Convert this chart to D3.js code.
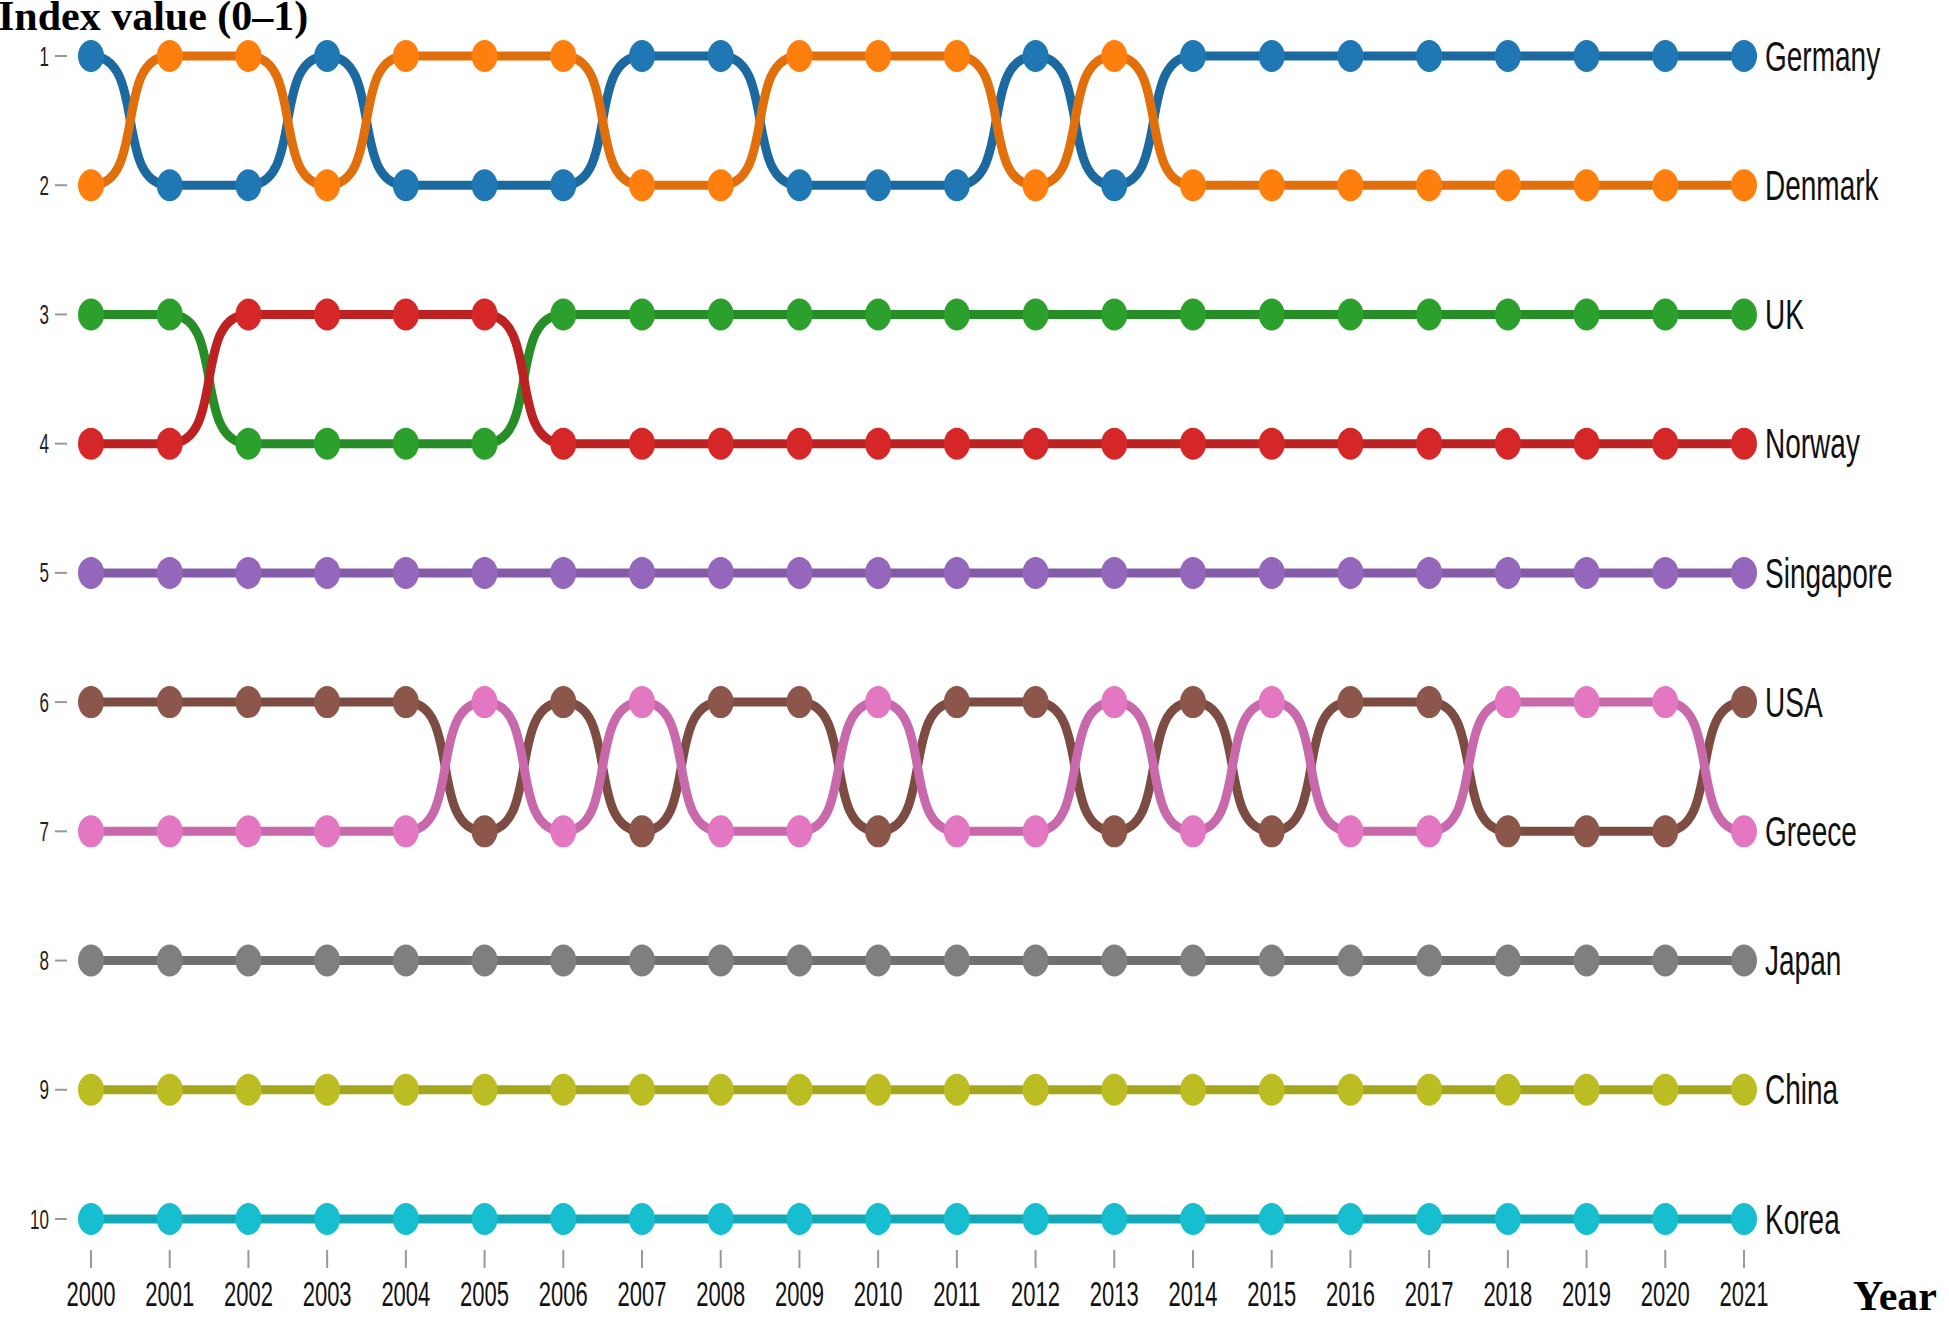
<!DOCTYPE html>
<html>
<head>
<meta charset="utf-8">
<script src="https://cdn.jsdelivr.net/npm/d3@7"></script>
<style>
  body { margin: 0; background: #fff; }
  svg { display: block; }
</style>
</head>
<body>
<svg id="chart" width="1949" height="1319"></svg>
<script>
// years on the x axis
var years = d3.range(2000, 2022);
var rankTicks = [1, 2, 3, 4, 5, 6, 7, 8, 9, 10];

// rank per year for each country
var germany   = [1,2,2,1,2,2,2,1,1,2,2,2,1,2,1,1,1,1,1,1,1,1];
var denmark   = [2,1,1,2,1,1,1,2,2,1,1,1,2,1,2,2,2,2,2,2,2,2];
var uk        = [3,3,4,4,4,4,3,3,3,3,3,3,3,3,3,3,3,3,3,3,3,3];
var norway    = [4,4,3,3,3,3,4,4,4,4,4,4,4,4,4,4,4,4,4,4,4,4];
var singapore = [5,5,5,5,5,5,5,5,5,5,5,5,5,5,5,5,5,5,5,5,5,5];
var usa       = [6,6,6,6,6,7,6,7,6,6,7,6,6,7,6,7,6,6,7,7,7,6];
var greece    = [7,7,7,7,7,6,7,6,7,7,6,7,7,6,7,6,7,7,6,6,6,7];
var japan     = [8,8,8,8,8,8,8,8,8,8,8,8,8,8,8,8,8,8,8,8,8,8];
var china     = [9,9,9,9,9,9,9,9,9,9,9,9,9,9,9,9,9,9,9,9,9,9];
var korea     = [10,10,10,10,10,10,10,10,10,10,10,10,10,10,10,10,10,10,10,10,10,10];

var countries = ["Germany", "Denmark", "UK", "Norway", "Singapore", "USA", "Greece", "Japan", "China", "Korea"];
var ranks = [germany, denmark, uk, norway, singapore, usa, greece, japan, china, korea];

var svg = d3.select("#chart");

var x = d3.scaleLinear().domain([2000, 2021]).range([91, 1744]);
var y = d3.scaleLinear().domain([1, 10]).range([56, 1219]);
var color = d3.scaleOrdinal().domain(countries).range(d3.schemeCategory10);

// bump curve with a steeper middle than d3.curveBumpX
function SharpBump(context) { this._context = context; }
SharpBump.prototype = {
  areaStart: function() {}, areaEnd: function() {},
  lineStart: function() { this._point = 0; },
  lineEnd: function() {},
  point: function(px, py) {
    if (this._point === 0) { this._context.moveTo(px, py); this._point = 1; }
    else {
      var dx = px - this._x0, a = 0.72;
      this._context.bezierCurveTo(this._x0 + a * dx, this._y0, px - a * dx, py, px, py);
    }
    this._x0 = px; this._y0 = py;
  }
};
function curveSharpBump(context) { return new SharpBump(context); }

// y axis: small ticks + stretched labels
var yAxis = svg.append("g");
rankTicks.forEach(function(r) {
  yAxis.append("line")
    .attr("x1", 55).attr("x2", 67)
    .attr("y1", y(r)).attr("y2", y(r))
    .attr("stroke", "#999").attr("stroke-width", 2);
  yAxis.append("text")
    .attr("transform", "translate(49," + y(r) + ") scale(1,1.6)")
    .attr("dy", "0.35em")
    .attr("text-anchor", "end")
    .attr("font-family", "Liberation Sans, Arial, sans-serif")
    .attr("font-size", 17)
    .attr("fill", "#222")
    .text(r);
});

// x axis
var xAxis = svg.append("g");
years.forEach(function(yr) {
  xAxis.append("line")
    .attr("x1", x(yr)).attr("x2", x(yr))
    .attr("y1", 1250).attr("y2", 1268)
    .attr("stroke", "#999").attr("stroke-width", 2);
  xAxis.append("text")
    .attr("transform", "translate(" + x(yr) + ",1306) scale(1,1.6)")
    .attr("text-anchor", "middle")
    .attr("font-family", "Liberation Sans, Arial, sans-serif")
    .attr("font-size", 22)
    .attr("fill", "#111")
    .text(yr);
});

var line = d3.line()
  .x(function(d, i) { return x(years[i]); })
  .y(function(d) { return y(d); })
  .curve(curveSharpBump);

countries.forEach(function(name, k) {
  var c = color(name);
  var g = svg.append("g");
  g.append("path")
    .datum(ranks[k])
    .attr("fill", "none")
    .attr("stroke", d3.color(c).darker(0.35))
    .attr("stroke-width", 9)
    .attr("d", line);
  g.selectAll("ellipse")
    .data(ranks[k])
    .enter().append("ellipse")
      .attr("cx", function(d, i) { return x(years[i]); })
      .attr("cy", function(d) { return y(d); })
      .attr("rx", 13)
      .attr("ry", 16)
      .attr("fill", c);
  g.append("text")
    .attr("transform", "translate(1765," + y(ranks[k][years.length - 1]) + ") scale(1,1.5)")
    .attr("dy", "0.35em")
    .attr("font-family", "Liberation Sans, Arial, sans-serif")
    .attr("font-size", 28)
    .attr("fill", "#111")
    .text(name);
});

svg.append("text")
  .attr("x", -2).attr("y", 30)
  .attr("font-family", "Liberation Serif, Times New Roman, serif")
  .attr("font-weight", "bold")
  .attr("font-size", 42)
  .attr("fill", "#000")
  .text("Index value (0\u20131)");

svg.append("text")
  .attr("x", 1853).attr("y", 1310)
  .attr("font-family", "Liberation Serif, Times New Roman, serif")
  .attr("font-weight", "bold")
  .attr("font-size", 42)
  .attr("fill", "#000")
  .text("Year");
</script>
</body>
</html>
